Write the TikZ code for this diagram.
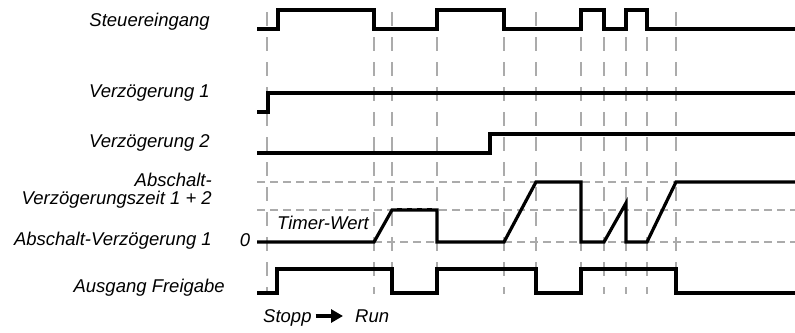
\documentclass[tikz,border=0pt]{standalone}
\usepackage{fontspec}
\setmainfont{Liberation Sans}
\usetikzlibrary{arrows.meta}
\begin{document}
\begin{tikzpicture}[x=1pt,y=-1pt,
  lbl/.style={font=\fontsize{18.5}{22}\selectfont\itshape, inner sep=0pt},
  sig/.style={line width=3.2pt, black},
  vgrid/.style={line width=1.5pt, color=black!33, dash pattern=on 14pt off 11pt},
  hgrid/.style={line width=1.5pt, color=black!33, dash pattern=on 8pt off 5pt}]
\useasboundingbox (0,0) rectangle (795,332);
% grid
\foreach \x in {267,374,392,437,504,536,581,604,626,647,676}
  \draw[vgrid] (\x,12) -- (\x,294);
\foreach \y in {182,210,242}
  \draw[hgrid] (257,\y) -- (795,\y);
% labels
\node[lbl, anchor=base east] (l1) at (210,27) {Steuereingang};
\node[lbl, anchor=base east] (l2) at (210,97) {Verzögerung 1};
\node[lbl, anchor=base east] (l3) at (210,147) {Verzögerung 2};
\node[lbl, anchor=base east] (l4a) at (212,186) {Abschalt-};
\node[lbl, anchor=base east] (l4b) at (212,204) {Verzögerungszeit 1 + 2};
\node[lbl, anchor=base east] (l5) at (212,245) {Abschalt-Verzögerung 1};
\node[lbl, anchor=base east] (l6) at (225,292) {Ausgang Freigabe};
\node[lbl, anchor=base] (zero) at (245,246) {0};
\node[lbl, anchor=base west] (tw) at (277,229) {Timer-Wert};
\node[lbl, anchor=base west] (stopp) at (263,322) {Stopp};
\node[lbl, anchor=base west] (run) at (355,322) {Run};
\draw[line width=4pt, -{Triangle[length=12pt,width=13pt]}]
  ([xshift=4pt,yshift=6pt]stopp.base east) -- ([xshift=-12pt,yshift=6pt]run.base west);
% signals
\draw[sig] (257,29) -- (278,29) -- (278,10) -- (374,10) -- (374,29) -- (437,29) -- (437,10)
  -- (504,10) -- (504,29) -- (581,29) -- (581,10) -- (604,10) -- (604,29) -- (626,29)
  -- (626,10) -- (647,10) -- (647,29) -- (795,29);
\draw[sig] (257,112) -- (268,112) -- (268,93) -- (795,93);
\draw[sig] (257,153) -- (490,153) -- (490,134) -- (795,134);
\draw[sig] (257,242) -- (374,242) -- (392,210) -- (437,210) -- (437,242) -- (504,242)
  -- (536,182) -- (581,182) -- (581,242) -- (604,242) -- (626,203) -- (626,242)
  -- (647,242) -- (676,182) -- (795,182);
\draw[line width=1pt, dash pattern=on 5pt off 5pt] (397,208.3) -- (432,208.3);
\draw[sig] (257,293) -- (277,293) -- (277,269) -- (392,269) -- (392,293) -- (437,293)
  -- (437,269) -- (536,269) -- (536,293) -- (581,293) -- (581,269) -- (676,269)
  -- (676,293) -- (795,293);
\end{tikzpicture}
\end{document}
